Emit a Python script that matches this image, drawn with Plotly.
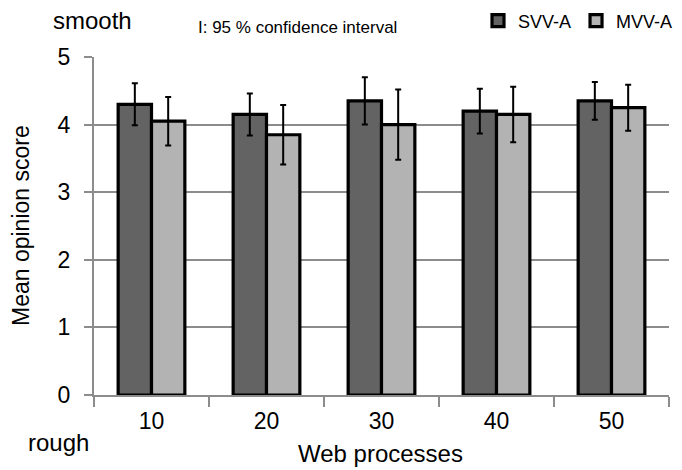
import plotly.graph_objects as go

categories = ["10", "20", "30", "40", "50"]
svv_mean = [4.30, 4.15, 4.35, 4.20, 4.35]
svv_ci = [0.31, 0.31, 0.35, 0.33, 0.28]
mvv_mean = [4.05, 3.85, 4.00, 4.15, 4.25]
mvv_ci = [0.36, 0.44, 0.52, 0.41, 0.34]
y_ticks = [0, 1, 2, 3, 4, 5]

FONT = "Liberation Sans, Arial, sans-serif"
GRAY = "#8c8c8c"

W, H = 682, 470
L, R, T, B = 94, 13, 57, 75
PW, PH = W - L - R, H - T - B


def px_x(x):
    return (x - L) / PW


def px_y(y):
    return (H - B - y) / PH


fig = go.Figure()
fig.add_trace(go.Bar(
    name="SVV-A", x=categories, y=svv_mean,
    marker=dict(color="#636363", line=dict(color="black", width=3.2)),
    error_y=dict(type="data", array=svv_ci, color="black", thickness=2, width=3),
))
fig.add_trace(go.Bar(
    name="MVV-A", x=categories, y=mvv_mean,
    marker=dict(color="#b3b3b3", line=dict(color="black", width=3.2)),
    error_y=dict(type="data", array=mvv_ci, color="black", thickness=2, width=3),
))

fig.update_layout(
    width=W, height=H,
    margin=dict(l=L, r=R, t=T, b=B, autoexpand=False),
    paper_bgcolor="white", plot_bgcolor="white",
    barmode="group", bargap=0.42, bargroupgap=0,
    font=dict(family=FONT, color="black"),
    showlegend=True,
    legend=dict(orientation="h", x=px_x(678), xanchor="right", y=px_y(21), yanchor="middle",
                font=dict(size=18, family=FONT), bgcolor="rgba(0,0,0,0)", itemwidth=30,
                traceorder="normal"),
    xaxis=dict(
        type="category", showline=True, linecolor=GRAY, linewidth=2,
        ticks="outside", tickson="boundaries", ticklen=10, tickcolor=GRAY, tickwidth=2,
        tickfont=dict(size=23), showgrid=False, ticklabelstandoff=4,
    ),
    yaxis=dict(
        range=[0, 5], tickvals=y_ticks, showline=True, linecolor=GRAY, linewidth=2,
        ticks="outside", ticklen=8, tickcolor=GRAY, tickwidth=2,
        tickfont=dict(size=23), showgrid=True, gridcolor=GRAY, gridwidth=2,
        zeroline=False, ticklabelstandoff=9,
    ),
    annotations=[
        dict(text="smooth", xref="paper", yref="paper", x=px_x(51), y=px_y(21),
             xanchor="left", yanchor="middle", showarrow=False, font=dict(size=24)),
        dict(text="I: 95 % confidence interval", xref="paper", yref="paper", x=px_x(196), y=px_y(28),
             xanchor="left", yanchor="middle", showarrow=False, font=dict(size=17)),
        dict(text="rough", xref="paper", yref="paper", x=px_x(26), y=px_y(442),
             xanchor="left", yanchor="middle", showarrow=False, font=dict(size=24)),
        dict(text="Web processes", xref="paper", yref="paper", x=px_x(380), y=px_y(453),
             xanchor="center", yanchor="middle", showarrow=False, font=dict(size=24)),
        dict(text="Mean opinion score", xref="paper", yref="paper", x=px_x(21), y=px_y(226),
             xanchor="center", yanchor="middle", showarrow=False, textangle=-90,
             font=dict(size=23)),
    ],
)

fig.write_html("out.html")
